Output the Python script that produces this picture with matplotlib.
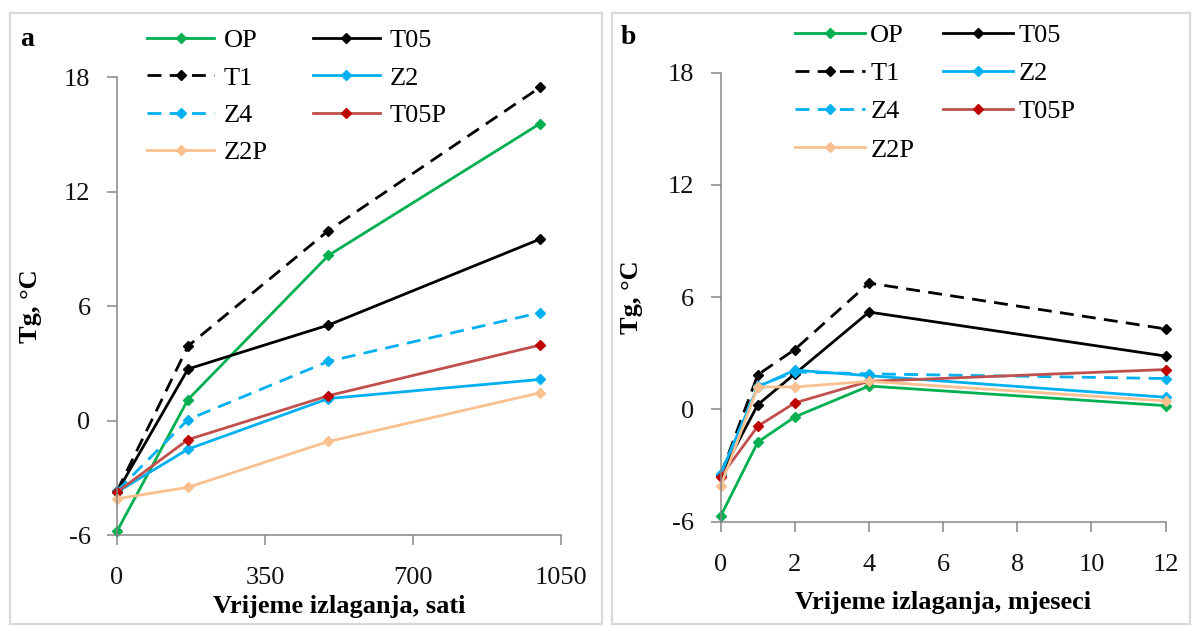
import matplotlib
matplotlib.use("Agg")
import matplotlib.pyplot as plt
from matplotlib.patches import Rectangle

plt.rcParams['font.family'] = ['Liberation Serif', 'DejaVu Serif']
plt.rcParams['axes.unicode_minus'] = False

# ---------------- data ----------------
series_names = ["OP", "T05", "T1", "Z2", "Z4", "T05P", "Z2P"]

hours = [0, 168, 500, 1000]
a_OP = [-5.8, 1.1, 8.65, 15.55]
a_T05 = [-3.75, 2.7, 5.0, 9.5]
a_T1 = [-3.7, 3.9, 9.95, 17.45]
a_Z2 = [-3.75, -1.5, 1.15, 2.15]
a_Z4 = [-3.7, 0.05, 3.1, 5.65]
a_T05P = [-3.75, -1.0, 1.3, 3.95]
a_Z2P = [-4.1, -3.5, -1.1, 1.45]

months = [0, 1, 2, 4, 12]
b_OP = [-5.7, -1.75, -0.4, 1.25, 0.2]
b_T05 = [-3.5, 0.25, 1.9, 5.2, 2.85]
b_T1 = [-3.5, 1.85, 3.2, 6.75, 4.3]
b_Z2 = [-3.45, 1.2, 2.1, 1.8, 0.65]
b_Z4 = [-3.45, 1.25, 2.0, 1.9, 1.65]
b_T05P = [-3.6, -0.9, 0.35, 1.5, 2.13]
b_Z2P = [-4.1, 1.2, 1.2, 1.5, 0.45]

a_ticks_x = [0, 350, 700, 1050]
b_ticks_x = [0, 2, 4, 6, 8, 10, 12]
y_ticks = [-6, 0, 6, 12, 18]

styles = {
    "OP":   dict(color="#00B050", ls="-", mfc="#00B050"),
    "T05":  dict(color="#000000", ls="-", mfc="#000000"),
    "T1":   dict(color="#000000", ls="--", mfc="#000000"),
    "Z2":   dict(color="#00B0F0", ls="-", mfc="#00B0F0"),
    "Z4":   dict(color="#00B0F0", ls="--", mfc="#00B0F0"),
    "T05P": dict(color="#C0504D", ls="-", mfc="#C00000"),
    "Z2P":  dict(color="#FAC090", ls="-", mfc="#FAC090"),
}

W, H = 1193, 626
fig = plt.figure(figsize=(W / 100, H / 100), dpi=100)

def fx(px):
    return px / W

def fy(py):
    return 1 - py / H

# panel frames
for (x0, x1) in [(10, 602), (612, 1190)]:
    fig.patches.append(Rectangle((fx(x0), fy(624)), fx(x1 - x0), (624 - 13) / H,
                                 transform=fig.transFigure, fill=False,
                                 edgecolor="#d9d9d9", linewidth=1.6, zorder=0))

axa = fig.add_axes([fx(117), fy(535), fx(561 - 117), (535 - 77) / H])
axb = fig.add_axes([fx(720.7), fy(521.7), fx(1165.5 - 720.7), (521.7 - 72.5) / H])

FS = 19

def style_axes(ax, xlim, xticks, xlabel, label_y, ylab_x):
    ax.set_xlim(*xlim)
    ax.set_ylim(-6, 18)
    ax.set_xticks(xticks)
    ax.set_yticks(y_ticks)
    for s in ["top", "right"]:
        ax.spines[s].set_visible(False)
    for s in ["left", "bottom"]:
        ax.spines[s].set_color("#868686")
        ax.spines[s].set_linewidth(1.1)
    ax.tick_params(axis="both", direction="out", length=7, width=1.1,
                   color="#868686", labelsize=FS, labelcolor="#111111")
    ax.tick_params(axis="y", pad=12)
    ax.tick_params(axis="x", pad=16)
    ax.set_xlabel(xlabel, fontsize=FS, fontweight="bold")
    ax.xaxis.set_label_coords(0.5, label_y)
    ax.set_ylabel("Tg, °C", fontsize=FS, fontweight="bold")
    ax.yaxis.set_label_coords(ylab_x, 0.5)
    ax.patch.set_alpha(0)

def plot_panel(ax, x, data):
    handles = {}
    for name in series_names:
        st = styles[name]
        ln, = ax.plot(x, data[name], color=st["color"], linestyle=st["ls"],
                      linewidth=2.0, marker="D", markersize=4.8,
                      markerfacecolor=st["mfc"], markeredgecolor=st["mfc"],
                      clip_on=False, label=name,
                      dashes=(5.0, 3.0) if st["ls"] == "--" else (None, None))
        if st["ls"] != "--":
            ln.set_linestyle("-")
        handles[name] = ln
    return handles

data_a = {"OP": a_OP, "T05": a_T05, "T1": a_T1, "Z2": a_Z2,
          "Z4": a_Z4, "T05P": a_T05P, "Z2P": a_Z2P}
data_b = {"OP": b_OP, "T05": b_T05, "T1": b_T1, "Z2": b_Z2,
          "Z4": b_Z4, "T05P": b_T05P, "Z2P": b_Z2P}

ha = plot_panel(axa, hours, data_a)
hb = plot_panel(axb, months, data_b)

style_axes(axa, (0, 1050), a_ticks_x, "Vrijeme izlaganja, sati",
           -0.13, -0.17)
style_axes(axb, (0, 12), b_ticks_x, "Vrijeme izlaganja, mjeseci",
           -0.155, -0.175)

order = ["OP", "T1", "Z4", "Z2P", "T05", "Z2", "T05P"]

fig.legend([ha[n] for n in order], order, loc="upper left",
           bbox_to_anchor=(fx(147), fy(29)), ncol=2, frameon=False,
           fontsize=FS, borderpad=0, borderaxespad=0, handlelength=2.54,
           handletextpad=0.38, columnspacing=1.7, labelspacing=0.52,
           numpoints=1)
fig.legend([hb[n] for n in order], order, loc="upper left",
           bbox_to_anchor=(fx(795), fy(23.5)), ncol=2, frameon=False,
           fontsize=FS, borderpad=0, borderaxespad=0, handlelength=2.65,
           handletextpad=0.2, columnspacing=1.1, labelspacing=0.56,
           numpoints=1)

fig.text(fx(27), fy(40), "a", fontsize=FS + 1, fontweight="bold",
         ha="center", va="center")
fig.text(fx(628), fy(37), "b", fontsize=FS + 1, fontweight="bold",
         ha="center", va="center")

fig.savefig("out.png", dpi=100)
